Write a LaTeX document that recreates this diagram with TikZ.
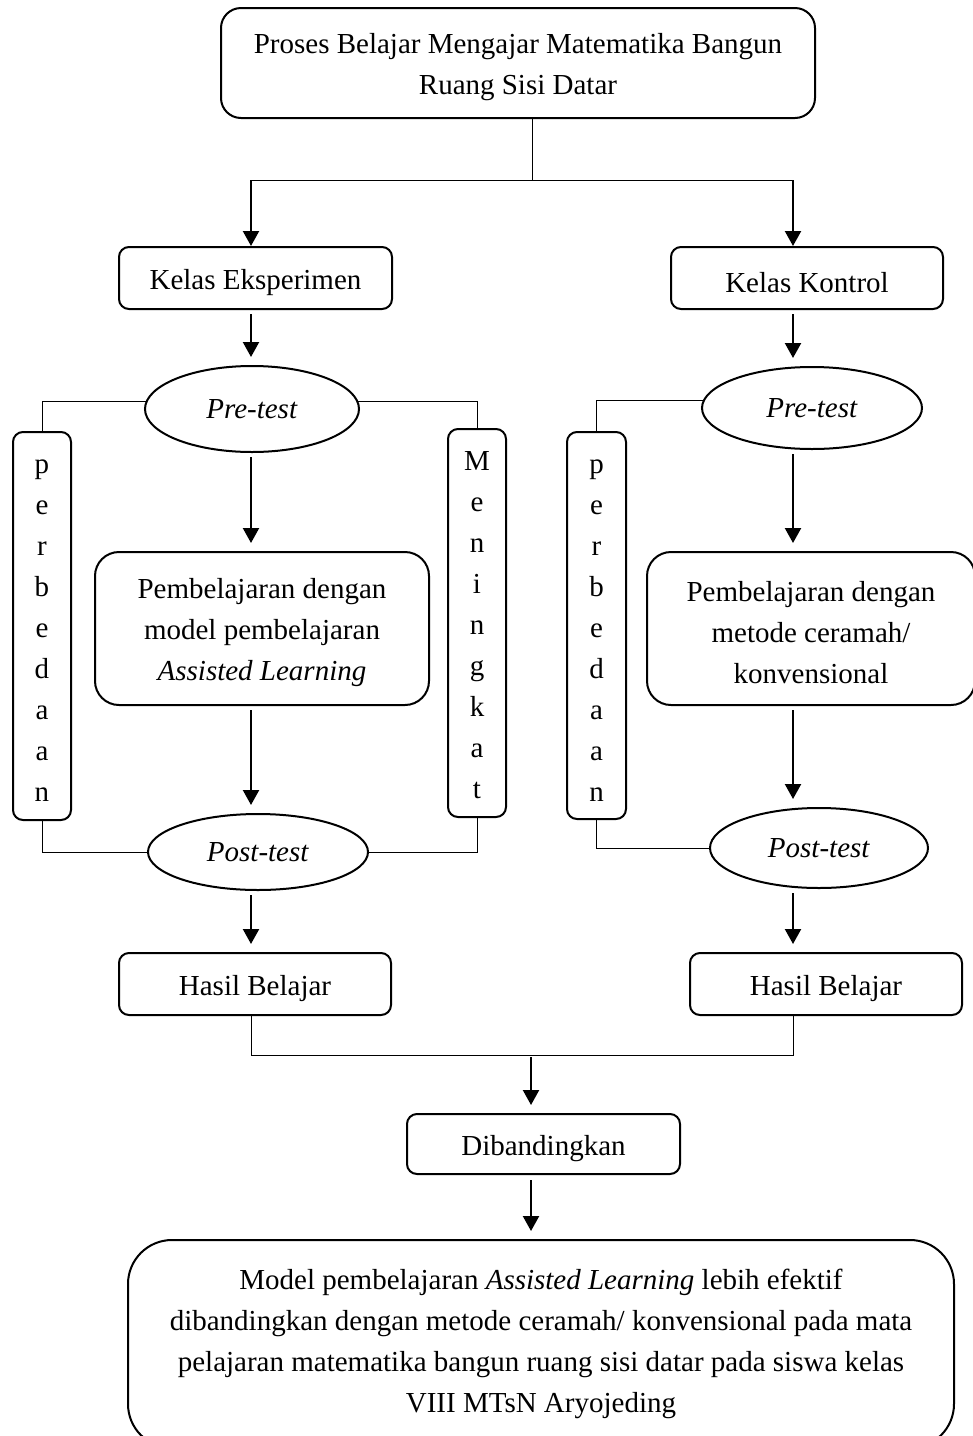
\documentclass[tikz,border=0pt]{standalone}
\usepackage{fontspec}
\setmainfont{Liberation Serif}
\usetikzlibrary{arrows.meta,shapes.geometric}
\definecolor{LineClr}{rgb}{0,0,0}
\newcommand{\padtop}[1]{\rule{0pt}{#1}}

\begin{document}
\begin{tikzpicture}[x=0.5pt,y=-0.5pt,
  every node/.style={font=\fontsize{14.5}{20.5}\selectfont,align=center,inner sep=0pt},
  box/.style={draw=LineClr,line width=1pt,rounded corners=#1,execute at begin node={\padtop{15pt}}},
  box/.default=5pt,
  column/.style={draw=LineClr,line width=1pt,rounded corners=5pt},
  oval/.style={draw=LineClr,line width=1pt,ellipse},
  link/.style={draw=LineClr,line width=0.5pt},
  arr/.style={draw=LineClr,line width=1.1pt,-{Triangle[width=8pt,length=7.5pt]},shorten >=4pt}]
\useasboundingbox (0,0) rectangle (973,1436);

\coordinate (colL) at (251,0);
\coordinate (colR) at (793,0);
\coordinate (split) at (532,180);
\coordinate (merge) at (531,1055);

\node[box=10pt,minimum width=297pt,minimum height=55pt] (proses) at (518,63) {\padtop{14pt}Proses Belajar Mengajar Matematika Bangun\\Ruang Sisi Datar};

\node[box,minimum width=136.5pt,minimum height=31pt] (kelasE) at (255.5,278) {Kelas Eksperimen};
\node[box,minimum width=136pt,minimum height=31pt] (kelasK) at (807,278) {Kelas Kontrol};

\node[oval,minimum width=107pt,minimum height=43pt] (preL) at (252,409) {\textit{Pre-test}};
\node[oval,minimum width=110pt,minimum height=41pt] (preR) at (812,408) {\textit{Pre-test}};

\node[column,minimum width=29pt,minimum height=194pt] (perbL) at (42,626) {\padtop{11.5pt}p\\e\\r\\b\\e\\d\\a\\a\\n};
\node[column,minimum width=29pt,minimum height=194pt] (meng) at (477,623) {\padtop{11.5pt}M\\e\\n\\i\\n\\g\\k\\a\\t};
\node[column,minimum width=29.5pt,minimum height=193.5pt] (perbR) at (596.5,625.5) {\padtop{11.5pt}p\\e\\r\\b\\e\\d\\a\\a\\n};

\node[box=12pt,minimum width=167pt,minimum height=76.5pt] (belL) at (262,628.5) {\padtop{14pt}Pembelajaran dengan\\model pembelajaran\\\textit{Assisted Learning}};
\node[box=12pt,minimum width=164pt,minimum height=76.5pt] (belR) at (811,628.5) {\padtop{14pt}Pembelajaran dengan\\metode ceramah/\\konvensional};

\node[oval,minimum width=110pt,minimum height=38pt] (postL) at (258,852) {\textit{Post-test}};
\node[oval,minimum width=109pt,minimum height=40pt] (postR) at (819,848) {\textit{Post-test}};

\node[box,minimum width=136pt,minimum height=31pt] (hasL) at (255,984) {Hasil Belajar};
\node[box,minimum width=136pt,minimum height=31pt] (hasR) at (826,984) {Hasil Belajar};

\node[box,minimum width=136.5pt,minimum height=30pt] (dib) at (543.5,1144) {Dibandingkan};

\node[box=22pt,minimum width=413pt,minimum height=104pt] (akhir) at (541,1344) {Model pembelajaran \textit{Assisted Learning} lebih efektif\\dibandingkan dengan metode ceramah/ konvensional pada mata\\pelajaran matematika bangun ruang sisi datar pada siswa kelas\\VIII MTsN Aryojeding};

\draw[link] (proses.south -| split) -- (split);
\draw[link] (split -| colL) -- (split -| colR);
\draw[arr,shorten >=0pt] (split -| colL) -- (kelasE.north -| colL);
\draw[arr,shorten >=0pt] (split -| colR) -- (kelasK.north -| colR);

\foreach \a/\b in {kelasE/preL,preL/belL,belL/postL,postL/hasL}
  \draw[arr,shorten <=2pt] (\a.south -| colL) -- (\b.north -| colL);
\foreach \a/\b in {kelasK/preR,preR/belR,belR/postR,postR/hasR}
  \draw[arr,shorten <=2pt] (\a.south -| colR) -- (\b.north -| colR);

\draw[link] (preL.176) -| (perbL.north);
\draw[link] (postL.west) -| (perbL.south);
\draw[link] (preL.4) -| (meng.north);
\draw[link] (postL.east) -| (meng.south);
\draw[link] (preR.176) -| (perbR.north);
\draw[link] (postR.west) -| (perbR.south);

\draw[link] (hasL.south -| colL) |- (merge) -| (hasR.south -| colR);
\draw[arr,shorten <=1pt] (merge) -- (dib.north -| merge);
\draw[arr,shorten <=2.5pt] (dib.south -| merge) -- (akhir.north -| merge);
\end{tikzpicture}
\end{document}
